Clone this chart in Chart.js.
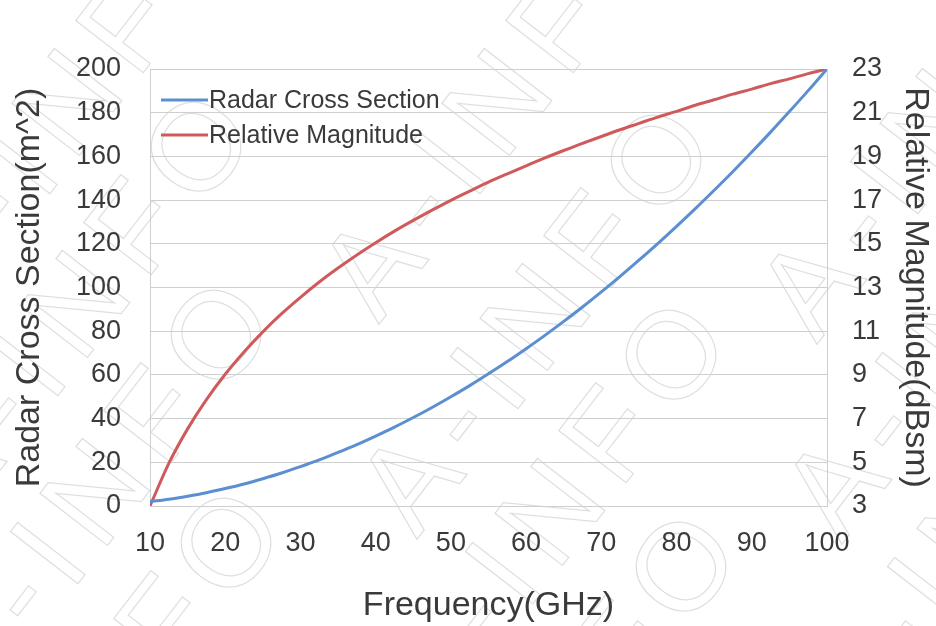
<!DOCTYPE html>
<html>
<head>
<meta charset="utf-8">
<script src="https://cdn.jsdelivr.net/npm/chart.js@4"></script>
<style>
  html, body { margin: 0; padding: 0; background: #fff; }
  #wrap { width: 936px; height: 626px; }
</style>
</head>
<body>
<div id="wrap"><canvas id="rcsChart" width="936" height="626"></canvas></div>
<script>
// frequency points (GHz)
const freqs = [10, 12.5, 15, 17.5, 20, 22.5, 25, 27.5, 30, 32.5, 35, 37.5, 40, 42.5, 45, 47.5, 50, 52.5, 55,
  57.5, 60, 62.5, 65, 67.5, 70, 72.5, 75, 77.5, 80, 82.5, 85, 87.5, 90, 92.5, 95, 97.5, 100];
// Radar cross section (m^2), left axis
const rcsValues = [2, 3.1, 4.5, 6.1, 8, 10.1, 12.5, 15.1, 18, 21.1, 24.5, 28.1, 32, 36.1, 40.5, 45.1, 50, 55.1, 60.5,
  66.1, 72, 78.1, 84.5, 91.1, 98, 105.1, 112.5, 120.1, 128, 136.1, 144.5, 153.1, 162, 171.1, 180.5, 190.1, 200];
// Relative magnitude (dBsm), right axis
const magValues = [3, 4.95, 6.53, 7.87, 9.03, 10.05, 10.97, 11.8, 12.55, 13.25, 13.89, 14.49, 15.05, 15.58, 16.07, 16.54, 16.99, 17.41, 17.82,
  18.2, 18.57, 18.93, 19.27, 19.6, 19.91, 20.22, 20.51, 20.8, 21.06, 21.34, 21.59, 21.85, 22.08, 22.33, 22.55, 22.79, 23];

const leftTicks = [0, 20, 40, 60, 80, 100, 120, 140, 160, 180, 200];
const rightTicks = [3, 5, 7, 9, 11, 13, 15, 17, 19, 21, 23];
const xTicks = [10, 20, 30, 40, 50, 60, 70, 80, 90, 100];

const seriesNames = ['Radar Cross Section', 'Relative Magnitude'];
const seriesColors = ['#5b8fd2', '#cf5a5c'];

const FONT = '"Liberation Sans", Arial, sans-serif';
const textColor = '#3a3a3a';
const gridColor = '#cfcfcf';

const toPoints = (xs, ys) => xs.map((x, i) => ({ x: x, y: ys[i] }));

// faint "A-INFO" watermark; each spot is where the "O" sits
const watermarkSpots = [[195, -50], [203, 152], [223, 340], [233, 548],
  [625, -50], [663, 165], [678, 360], [688, 572],
  [1063, -30], [1088, 170], [1100, 375]];
const watermark = {
  id: 'watermark',
  beforeDraw(chart) {
    const ctx = chart.ctx;
    const chars = 'A-INFO'.split('');
    const gap = 15;
    ctx.save();
    ctx.font = '124px ' + FONT;
    ctx.strokeStyle = 'rgba(0,0,0,0.13)';
    ctx.lineWidth = 1.3;
    ctx.textBaseline = 'middle';
    const widths = chars.map(c => ctx.measureText(c).width);
    const total = widths.reduce((a, b) => a + b, 0) + gap * (chars.length - 1);
    watermarkSpots.forEach(p => {
      ctx.save();
      ctx.translate(p[0], p[1]);
      ctx.rotate(Math.atan2(-330, 255));
      let x = -(total - widths[widths.length - 1] / 2);
      chars.forEach((c, i) => {
        ctx.strokeText(c, x, 0);
        x += widths[i] + gap;
      });
      ctx.restore();
    });
    ctx.restore();
  }
};

// legend drawn inside the plot area, top-left
const insideLegend = {
  id: 'insideLegend',
  afterDatasetsDraw(chart) {
    const ctx = chart.ctx;
    const area = chart.chartArea;
    ctx.save();
    ctx.font = '25px ' + FONT;
    ctx.textBaseline = 'middle';
    seriesNames.forEach((name, i) => {
      const y = area.top + 31 + i * 35;
      ctx.strokeStyle = seriesColors[i];
      ctx.lineWidth = 3;
      ctx.beginPath();
      ctx.moveTo(area.left + 11, y);
      ctx.lineTo(area.left + 58, y);
      ctx.stroke();
      ctx.fillStyle = textColor;
      ctx.fillText(name, area.left + 59, y + 1);
    });
    ctx.restore();
  }
};

const fixSize = (w, h) => function(scale) {
  if (w != null) scale.width = w;
  if (h != null) scale.height = h;
};

new Chart(document.getElementById('rcsChart'), {
  type: 'line',
  data: {
    datasets: [{
      label: seriesNames[0],
      data: toPoints(freqs, rcsValues),
      borderColor: seriesColors[0],
      borderWidth: 3,
      pointRadius: 0,
      cubicInterpolationMode: 'monotone',
      yAxisID: 'y'
    }, {
      label: seriesNames[1],
      data: toPoints(freqs, magValues),
      borderColor: seriesColors[1],
      borderWidth: 3,
      pointRadius: 0,
      cubicInterpolationMode: 'monotone',
      yAxisID: 'y1'
    }]
  },
  options: {
    responsive: false,
    animation: false,
    layout: { padding: { top: 69, left: 0, right: 0, bottom: 0 } },
    plugins: {
      legend: { display: false },
      tooltip: { enabled: false }
    },
    scales: {
      x: {
        type: 'linear',
        min: 10,
        max: 100,
        afterBuildTicks: (axis) => { axis.ticks = xTicks.map(v => ({ value: v })); },
        afterFit: fixSize(null, 120),
        grid: { display: false, drawTicks: false },
        border: { display: true, color: gridColor, width: 1 },
        ticks: { color: textColor, font: { family: FONT, size: 27 }, padding: 21, maxRotation: 0 },
        title: { display: true, text: 'Frequency(GHz)', color: textColor, font: { family: FONT, size: 34 }, padding: { top: 10, bottom: 0 } }
      },
      y: {
        position: 'left',
        min: 0,
        max: 200,
        afterBuildTicks: (axis) => { axis.ticks = leftTicks.map(v => ({ value: v })); },
        afterFit: fixSize(150, null),
        grid: { color: gridColor, drawTicks: false },
        border: { display: true, color: gridColor },
        ticks: { color: textColor, font: { family: FONT, size: 27 }, padding: 29 },
        title: { display: true, text: 'Radar Cross Section(m^2)', color: textColor, font: { family: FONT, size: 34 }, padding: { top: 9, bottom: 0 } }
      },
      y1: {
        position: 'right',
        min: 3,
        max: 23,
        afterBuildTicks: (axis) => { axis.ticks = rightTicks.map(v => ({ value: v })); },
        afterFit: fixSize(109, null),
        grid: { display: false, drawTicks: false },
        border: { display: true, color: gridColor },
        ticks: { color: textColor, font: { family: FONT, size: 27 }, padding: 25 },
        title: { display: true, text: 'Relative Magnitude(dBsm)', color: textColor, font: { family: FONT, size: 34 }, padding: { top: 0, bottom: 0 } }
      }
    }
  },
  plugins: [watermark, insideLegend]
});
</script>
</body>
</html>
